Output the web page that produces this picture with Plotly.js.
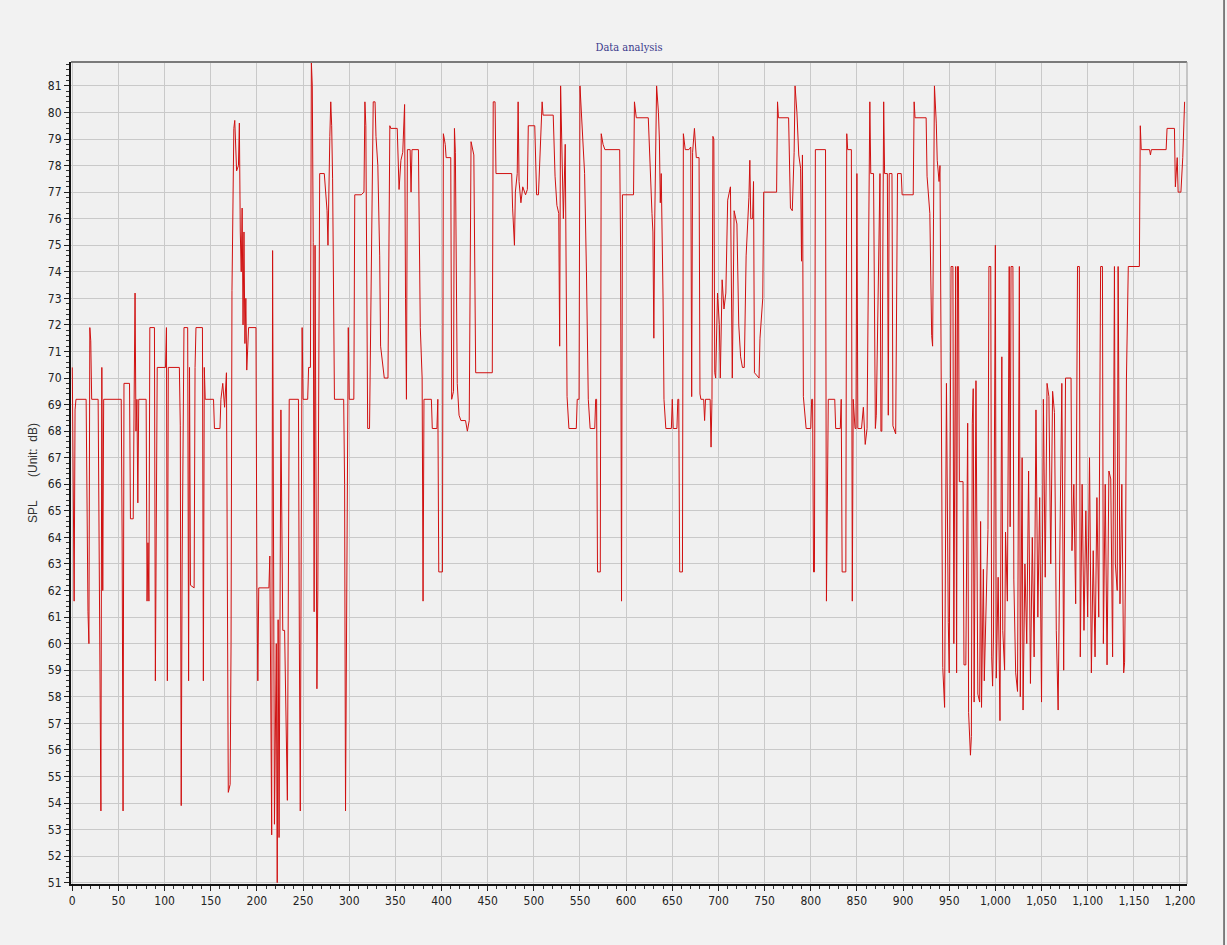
<!DOCTYPE html>
<html>
<head>
<meta charset="utf-8">
<script src="https://cdn.plot.ly/plotly-3.0.1.min.js"></script>
<style>
  html, body { margin: 0; padding: 0; background: #f2f2f2; }
  #chart { width: 1227px; height: 945px; }
</style>
</head>
<body>
<div id="chart"></div>
<script>
// Sample index / SPL (dB) pairs, by region
const seg0to315 = [
  [0,70.4],[1,66],[2,61.6],[3,68.8],[4,69.2],[15,69.2],[16,63.8],[17,61.2],[18,60.0],[19,71.9],[20,71.4],[21,69.2],[28,69.2],[29,65],[30,57.4],[31,53.7],[32,70.4],[33,62],[34,69.2],[53,69.2],[54,64],[55,53.7],[56,69.8],[62,69.8],[63,64.7],[66,64.7],[67,69.2],[68,73.2],[69,68],[70,69.2],[71,65.3],[72,69.2],[80,69.2],[81,61.6],[82,63.8],[83,61.6],[84,71.9],[89,71.9],[90,58.6],[91,68],[92,70.4],[101,70.4],[102,71.9],[103,58.6],[104,70.4],[116,70.4],[117,68.2],[118,53.9],[119,63],[121,71.9],[125,71.9],[126,58.6],[127,70.4],[128,62.2],[132,62.1],[133,70.4],[134,71.9],[141,71.9],[142,58.6],[143,70.4],[144,69.2],[153,69.2],[154,68.1],[160,68.1],[161,69.2],[163,69.8],[165,68.9],[167,70.2],[168,62],[169,54.4],[171,54.7],[172,60],[173,73.3],[174,76.5],[175,79.4],[176,79.7],[177,78.3],[178,77.8],[180,78.0],[181,79.6],[182,75.5],[183,74],[184,76.4],[185,72],[186,75.5],[187,71.3],[188,73],[189,70.3],[191,71.9],[199,71.9],[200,62.1],[201,58.6],[202,62.1],[213,62.1],[214,63.3],[215,59.2],[216,52.8],[217,74.8],[218,61],[219,53.2],[221,60],[222,51.0],[223,60.9],[224,52.7],[226,68.8],[228,60.5],[230,60.5],[233,54.1],[235,69.2],[245,69.2],[246,60],[247,53.7],[248,64],[249,71.9],[250,69.2],[255,69.2],[256,70.4],[258,70.4],[259,81.9],[260,81.0],[261,75.1],[262,61.2],[263,75],[265,58.3],[266,62],[268,77.7],[273,77.7],[275,76.5],[276,76.3],[277,75.0],[278,77.8],[279,79.1],[280,80.4],[281,79.5],[282,77.5],[284,69.2],[294,69.2],[295,66],[296,53.7],[297,60],[299,71.9],[300,69.2],[305,69.2],[306,76.9],[313,76.9]
];
const seg315to668 = [
  [316,77.0],[317,80.4],[318,79.5],[320,68.1],[322,68.1],[324,75],[326,80.4],[328,80.4],[329,79.1],[331,78],[333,74.6],[334,71.2],[336,70.6],[338,70.0],[342,70.0],[344,79.5],[345,79.4],[352,79.4],[354,77.1],[356,78.2],[358,78.5],[360,80.3],[361,73],[362,69.2],[363,78.6],[366,78.6],[367,77],[368,78.6],[375,78.6],[377,71.9],[379,70],[380,61.6],[381,69.2],[389,69.2],[390,68.1],[395,68.1],[396,69.2],[397,62.7],[401,62.7],[402,79.2],[404,78.8],[405,78.3],[410,78.3],[411,69.2],[413,69.5],[414,79.4],[415,78.5],[417,69.8],[419,68.6],[421,68.4],[426,68.4],[428,68.0],[430,68.4],[432,78.9],[435,78.4],[436,73],[437,70.2],[455,70.2],[456,80.4],[458,80.4],[459,77.7],[476,77.7],[477,76.4],[479,75.0],[480,77.0],[482,77.7],[483,80.4],[484,77.4],[486,76.6],[488,77.2],[491,76.9],[493,77.1],[494,79.5],[501,79.5],[502,77.5],[503,76.9],[505,76.9],[507,78.5],[509,80.4],[510,79.9],[521,79.9],[523,77.6],[525,76.5],[527,76.2],[528,71.2],[529,81.0],[530,79],[531,78],[532,76],[534,78.8],[536,69.3],[538,68.1],[546,68.1],[547,69.2],[549,69.2],[550,81.0],[551,80.3],[553,79.2],[555,77.7],[557,74],[559,69.2],[561,68.1],[566,68.1],[567,69.2],[568,69.2],[569,62.7],[572,62.7],[573,79.2],[575,78.8],[577,78.6],[593,78.6],[594,74.9],[595,61.6],[596,76.9],[608,76.9],[609,80.4],[611,79.8],[624,79.8],[626,77.6],[628,76.2],[629,75.5],[630,71.5],[631,76],[633,81.0],[635,80.0],[636,79.0],[637,76.6],[638,77.7],[640,73],[641,69.2],[643,68.1],[649,68.1],[650,69.2],[651,68.1],[655,68.1],[656,69.2],[657,69.2],[658,62.7],[661,62.7],[662,79.2],[664,78.6],[668,78.6]
];
const seg668to941 = [
  [670,78.7],[671,69.3],[672,78.5],[674,79.4],[676,78.3],[679,78.3],[680,69.4],[681,69.2],[684,69.2],[685,68.4],[686,69.2],[691,69.2],[692,67.4],[693,69.2],[694,79.1],[695,79.0],[696,70.2],[697,70.0],[699,73.2],[701,72.0],[702,70.0],[704,73.7],[706,72.6],[708,73.2],[710,76.7],[713,77.2],[715,70.0],[717,76.3],[720,75.8],[722,72.0],[724,70.8],[726,70.4],[728,70.4],[730,74.6],[733,76.8],[734,78.2],[735,76.0],[737,76.0],[738,77.4],[739,70.2],[744,70.0],[745,71.5],[748,73.0],[749,77.0],[763,77.0],[764,80.4],[765,79.8],[776,79.8],[778,76.4],[780,76.3],[782,78.5],[783,81.0],[785,80.0],[787,78.4],[789,77.9],[790,74.4],[791,78.4],[792,69.3],[795,68.1],[800,68.1],[801,69.2],[802,69.2],[803,62.7],[804,62.7],[805,78.6],[816,78.6],[817,61.6],[819,69.2],[826,69.2],[827,68.1],[832,68.1],[833,69.2],[834,62.7],[838,62.7],[839,79.2],[840,78.6],[844,78.6],[845,61.6],[846,69.2],[848,68.1],[849,68.1],[850,77.7],[851,68.1],[855,68.1],[857,68.9],[859,67.5],[861,68.1],[864,80.4],[865,77.7],[868,77.7],[870,68.1],[871,68.6],[875,77.7],[876,68.0],[877,68.0],[879,80.4],[880,77.7],[883,77.7],[884,68.6],[885,77.7],[888,77.7],[889,68.2],[892,67.9],[894,77.7],[898,77.7],[899,76.9],[911,76.9],[912,80.4],[913,79.8],[925,79.8],[926,77.6],[929,76.2],[931,71.6],[932,71.2],[933,76.0],[934,81.0],[936,79.6],[937,78.2],[939,77.4],[940,78.0],[941,72.0]
];
const seg941to1024 = [
  [942,64.7],[943,59.1],[945,57.6],[947,69.8],[949,60.8],[950,58.9],[952,74.2],[954,74.2],[955,60.0],[957,74.2],[958,58.9],[959,74.2],[960,74.2],[961,66.1],[965,66.1],[966,59.2],[968,59.2],[970,68.3],[971,57.4],[973,55.8],[974,56.5],[975,68.3],[976,69.6],[977,57.8],[979,69.9],[981,58.1],[983,57.8],[984,64.6],[985,57.6],[987,62.8],[988,58.6],[990,62.0],[992,64.3],[993,74.2],[995,74.2],[996,59.5],[997,58.4],[998,60.4],[1000,75.0],[1001,58.7],[1003,62.5],[1005,57.1],[1007,70.8],[1008,60.5],[1010,59.0],[1011,64.2],[1013,61.6],[1015,74.2],[1016,64.4],[1017,74.2],[1019,74.2],[1020,62.4],[1022,58.9],[1024,58.2]
];
const seg1024to1207 = [
  [1025,64.5],[1026,74.2],[1027,58],[1029,67],[1030,57.5],[1032,63],[1034,60],[1036,66.5],[1038,58.5],[1040,64],[1042,59.5],[1044,68.8],[1046,61],[1048,65.5],[1050,57.8],[1052,69.2],[1054,62.5],[1056,69.8],[1058,69.3],[1060,63],[1062,69.5],[1064,68.7],[1066,60.5],[1068,57.5],[1070,64],[1072,69.8],[1074,59],[1076,70.0],[1082,70.0],[1083,63.5],[1085,66],[1087,61.5],[1089,74.2],[1091,74.2],[1092,59.5],[1094,66],[1096,60.5],[1098,65],[1100,61],[1102,67],[1104,58.9],[1106,63.5],[1108,59.5],[1110,65.5],[1112,61],[1114,74.2],[1116,74.2],[1117,60],[1119,66],[1121,59.2],[1123,66.5],[1125,66.2],[1127,59.5],[1129,74.2],[1130,63],[1132,62],[1133,74.2],[1135,61.5],[1137,66],[1139,58.9],[1140,59.3],[1141,63],[1142,70],[1144,74.2],[1156,74.2],[1157,79.5],[1158,78.6],[1167,78.6],[1168,78.4],[1169,78.6],[1185,78.6],[1186,79.4],[1194,79.4],[1195,77.2],[1197,78.3],[1198,77.0],[1201,77.0],[1203,78.3],[1205,80.4]
];

const yTickValues = [51,52,53,54,55,56,57,58,59,60,61,62,63,64,65,66,67,68,69,70,71,72,73,74,75,76,77,78,79,80,81];
const xTickValues = [0,50,100,150,200,250,300,350,400,450,500,550,600,650,700,750,800,850,900,950,1000,1050,1100,1150,1200];

const all = [].concat(seg0to315, seg315to668, seg668to941, seg941to1024, seg1024to1207);
const xs = all.map(p => p[0]);
const ys = all.map(p => p[1]);

const tickFont = {family: '"Liberation Sans Narrow", "Arial Narrow", "DejaVu Sans Condensed", sans-serif', size: 12, color: '#222'};

const trace = {
  x: xs, y: ys, type: 'scatter', mode: 'lines',
  line: {color: '#d01010', width: 1},
  hoverinfo: 'skip'
};

const layout = {
  width: 1227, height: 945,
  paper_bgcolor: '#f2f2f2',
  plot_bgcolor: '#f0f0f0',
  margin: {l: 71, r: 40, t: 62, b: 61},
  showlegend: false,
  title: {
    text: 'Data analysis',
    font: {family: '"DejaVu Serif Condensed", "DejaVu Serif", serif', size: 11, color: '#3a3a8c'},
    x: 0.5, xanchor: 'center', xref: 'paper',
    y: 1 - 47/945, yref: 'container', yanchor: 'middle'
  },
  xaxis: {
    range: [-1.4, 1207.6],
    tickvals: xTickValues,
    tickformat: ',d',
    ticks: 'outside', ticklen: 5, tickwidth: 1, tickcolor: '#222',
    tickfont: tickFont,
    showgrid: true, gridcolor: '#c9c9c9', gridwidth: 1,
    zeroline: false,
    showline: true, linecolor: '#111', linewidth: 2,
    minor: {dtick: 10, ticks: 'outside', ticklen: 3, tickcolor: '#333', showgrid: false},
    fixedrange: true
  },
  yaxis: {
    range: [50.95, 81.9],
    tickvals: yTickValues,
    ticks: 'outside', ticklen: 5, tickwidth: 1, tickcolor: '#222',
    tickfont: tickFont,
    showgrid: true, gridcolor: '#c9c9c9', gridwidth: 1,
    zeroline: false,
    showline: true, linecolor: '#111', linewidth: 2,
    minor: {dtick: 0.2, ticks: 'outside', ticklen: 3, tickcolor: '#333', showgrid: false},
    title: {
      text: 'SPL&nbsp;&nbsp;&nbsp;&nbsp;&nbsp;&nbsp;&nbsp;(Unit:&nbsp;&nbsp;dB)',
      font: {family: 'Liberation Sans, Arial, sans-serif', size: 12, color: '#333'},
      standoff: 8
    },
    fixedrange: true
  },
  shapes: [
    {type: 'line', xref: 'paper', yref: 'paper', x0: 0, x1: 1, y0: 1, y1: 1, line: {color: '#7a7a7a', width: 2}},
    {type: 'line', xref: 'paper', yref: 'paper', x0: 1, x1: 1, y0: 0, y1: 1, line: {color: '#9a9a9a', width: 1}},
    {type: 'line', xref: 'paper', yref: 'paper', x0: 1.0332, x1: 1.0332, y0: -0.09, y1: 1.08, line: {color: '#5a5a5a', width: 1.5}}
  ]
};

Plotly.newPlot('chart', [trace], layout, {displayModeBar: false, staticPlot: true});
</script>
</body>
</html>
